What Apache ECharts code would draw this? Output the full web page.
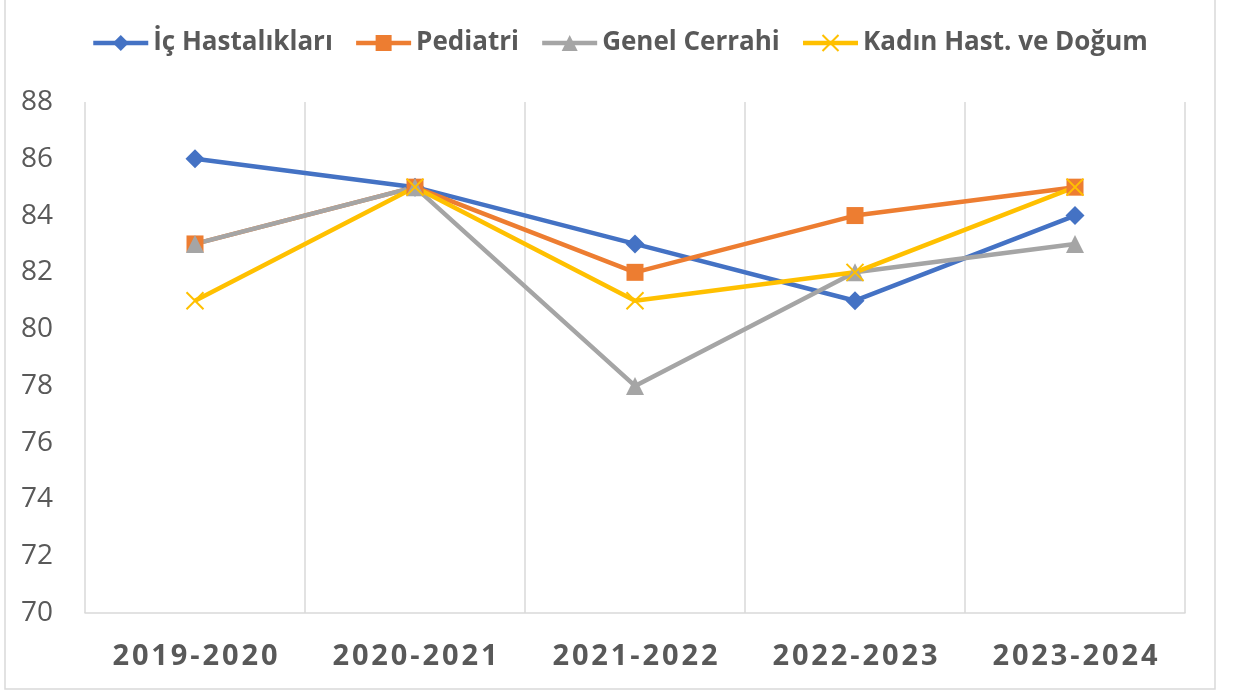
<!DOCTYPE html>
<html>
<head>
<meta charset="utf-8">
<script src="https://cdn.jsdelivr.net/npm/echarts@6/dist/echarts.min.js"></script>
<style>
  html, body { margin: 0; padding: 0; background: #fff; }
  #chart { width: 1238px; height: 695px; }
</style>
</head>
<body>
<div id="chart"></div>
<script>
// years on the x axis
const years = ["2019-2020", "2020-2021", "2021-2022", "2022-2023", "2023-2024"];
// one array per department
const icHastaliklari = [86, 85, 83, 81, 84];
const pediatri = [83, 85, 82, 84, 85];
const genelCerrahi = [83, 85, 78, 82, 83];
const kadinDogum = [81, 85, 81, 82, 85];
const seriesNames = ["İç Hastalıkları", "Pediatri", "Genel Cerrahi", "Kadın Hast. ve Doğum"];

const chart = echarts.init(document.getElementById("chart"));

// X işareti (Excel'deki çarpı marker)
const crossPath = "path://M0,0L10,10M10,0L0,10";

function lineSeries(name, data, color, symbol, size, extra) {
  return Object.assign({
    name: name,
    type: "line",
    data: data,
    symbol: symbol,
    symbolSize: size,
    lineStyle: { color: color, width: 4.5 },
    itemStyle: { color: color },
    emphasis: { disabled: true },
    animation: false,
  }, extra || {});
}

const option = {
  backgroundColor: "#fff",
  textStyle: { fontFamily: "Open Sans" },
  graphic: [
    {
      type: "rect",
      shape: { x: 5, y: -2, width: 1210, height: 691 },
      style: { fill: "none", stroke: "#d9d9d9", lineWidth: 1.5 },
      silent: true,
    },
  ],
  legend: {
    top: 25,
    left: 86,
    itemWidth: 55,
    itemHeight: 20,
    itemGap: 21,
    lineStyle: { width: 4.5 },
    textStyle: { color: "#595959", fontSize: 26, fontWeight: "bold", fontFamily: "Open Sans" },
    data: seriesNames,
  },
  grid: { left: 85, right: 53, top: 102, bottom: 82 },
  xAxis: {
    type: "category",
    data: years,
    boundaryGap: true,
    axisLine: { show: true, lineStyle: { color: "#d9d9d9", width: 1.5 } },
    axisTick: { show: false },
    splitLine: { show: true, lineStyle: { color: "#d9d9d9", width: 1.5 } },
    axisLabel: {
      color: "#595959",
      fontSize: 29,
      fontWeight: "bold",
      fontFamily: "Open Sans",
      margin: 29,
      // harf aralığı
      formatter: (v) => v.split("").join("\u200A"),
    },
  },
  yAxis: {
    type: "value",
    min: 70,
    max: 88,
    interval: 2,
    axisLine: { show: false },
    axisTick: { show: false },
    splitLine: { show: false },
    axisLabel: { color: "#595959", fontSize: 28, margin: 32, fontFamily: "Open Sans" },
  },
  series: [
    lineSeries(seriesNames[0], icHastaliklari, "#4472C4", "diamond", 19),
    lineSeries(seriesNames[1], pediatri, "#ED7D31", "rect", 17),
    lineSeries(seriesNames[2], genelCerrahi, "#A5A5A5", "triangle", 18),
    lineSeries(seriesNames[3], kadinDogum, "#FFC000", crossPath, 17, {
      itemStyle: { color: "#FFC000", borderColor: "#FFC000", borderWidth: 2 },
    }),
  ],
};

chart.setOption(option);
</script>
</body>
</html>
